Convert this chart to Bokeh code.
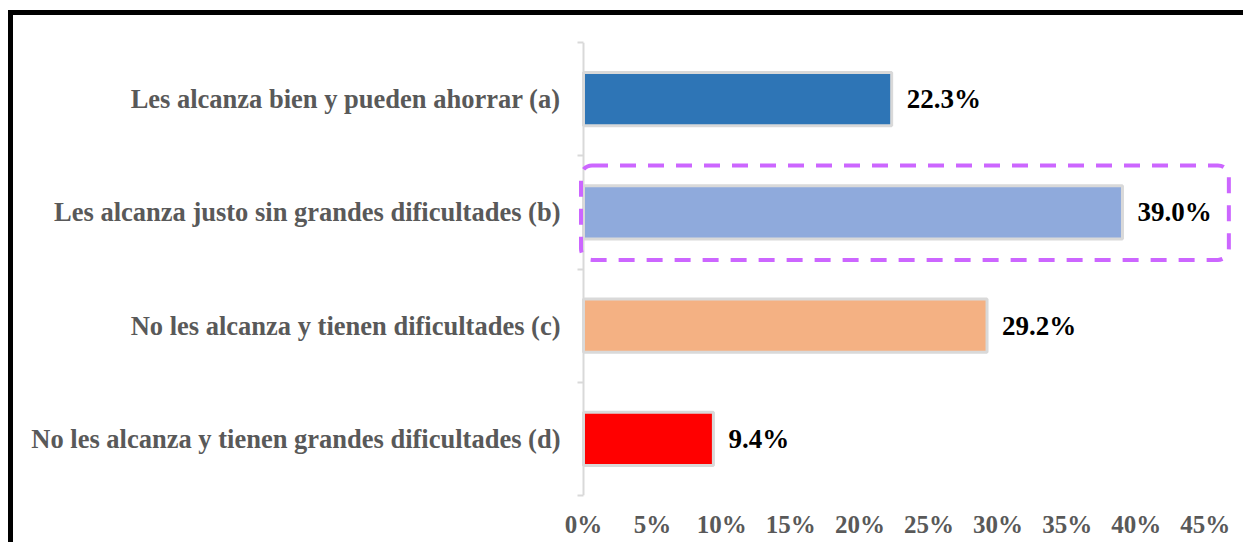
from bokeh.plotting import figure
from bokeh.models import Range1d, FixedTicker, BoxAnnotation, ColumnDataSource, PrintfTickFormatter, LabelSet, Span
from bokeh.embed import file_html
from bokeh.resources import INLINE

categories = [
    "Les alcanza bien y pueden ahorrar (a)",
    "Les alcanza justo sin grandes dificultades (b)",
    "No les alcanza y tienen dificultades (c)",
    "No les alcanza y tienen grandes dificultades (d)",
]
values = [22.3, 39.0, 29.2, 9.4]
colors = ["#2E75B6", "#8FAADC", "#F4B183", "#FF0000"]
x_ticks = [0, 5, 10, 15, 20, 25, 30, 35, 40, 45]

positions = list(range(1, len(categories) + 1))
labels = [f"{v:.1f}%" for v in values]

src = ColumnDataSource(dict(y=positions, v=values, c=colors, lab=labels))

FONT = "Liberation Serif"

p = figure(
    width=1235, height=532,
    x_range=Range1d(-0.362, 47.18), y_range=Range1d(4.5, 0.5),
    output_backend="svg", toolbar_location=None,
    min_border_left=565, min_border_right=13, min_border_top=27, min_border_bottom=52,
)
p.styles = {"border-left": "5px solid black", "border-top": "5px solid black",
            "margin-top": "10px", "margin-left": "8px"}
p.outline_line_color = None
p.grid.grid_line_color = None
p.background_fill_color = "white"
p.border_fill_color = "white"

# category axis line at 0%
p.add_layout(Span(location=0, dimension="height", line_color="#D9D9D9", line_width=2))

p.hbar(y="y", right="v", left=0, height=0.47, fill_color="c",
       line_color="#D9D9D9", line_width=3, source=src)

p.add_layout(LabelSet(x="v", y="y", text="lab", source=src, x_offset=15, y_offset=0,
                      text_baseline="middle", text_align="left",
                      text_font=FONT, text_font_style="bold", text_font_size="27px",
                      text_color="#000000"))

# highlight box around (b)
p.add_layout(BoxAnnotation(left=-0.18, right=46.7, top=1.585, bottom=2.42,
                           fill_color=None, fill_alpha=0, line_color="#CC66FF", line_alpha=1.0,
                           line_width=4, line_dash="16 12", border_radius=11))

# x axis
xa = p.xaxis[0]
xa.ticker = FixedTicker(ticks=x_ticks)
xa.formatter = PrintfTickFormatter(format="%d%%")
xa.axis_line_color = None
xa.major_tick_line_color = None
xa.minor_tick_line_color = None
xa.major_label_standoff = 9
xa.major_label_text_font = FONT
xa.major_label_text_font_style = "bold"
xa.major_label_text_font_size = "25px"
xa.major_label_text_color = "#595959"

# y axis (line drawn by the Span at 0%)
ya = p.yaxis[0]
ya.ticker = FixedTicker(ticks=positions, minor_ticks=[0.5, 1.5, 2.5, 3.5, 4.5])
ya.major_label_overrides = {pos: cat for pos, cat in zip(positions, categories)}
ya.axis_line_color = None
ya.major_tick_line_color = None
ya.major_tick_out = 0
ya.major_tick_in = 0
ya.minor_tick_line_color = "#D9D9D9"
ya.minor_tick_line_width = 2
ya.minor_tick_out = 1
ya.minor_tick_in = 5
ya.major_label_standoff = 17
ya.major_label_text_font = FONT
ya.major_label_text_font_style = "bold"
ya.major_label_text_font_size = "26.5px"
ya.major_label_text_color = "#595959"

open("out.html", "w").write(file_html(p, INLINE))
